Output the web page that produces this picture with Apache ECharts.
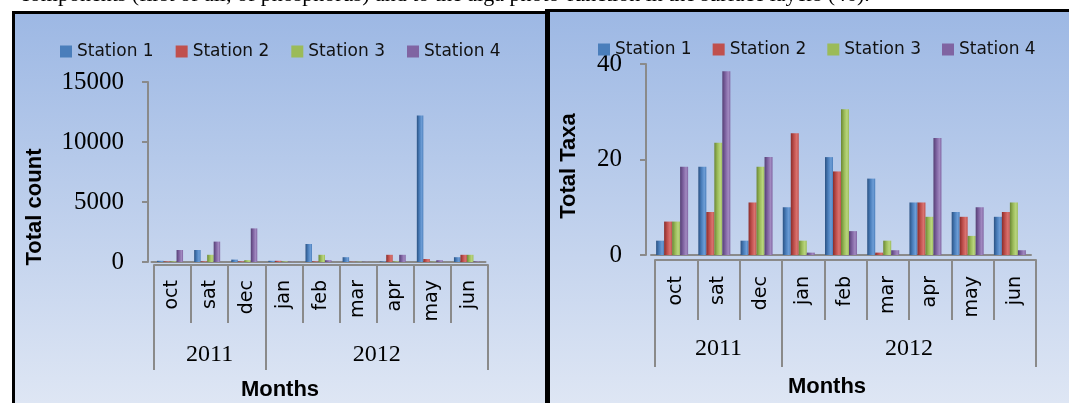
<!DOCTYPE html>
<html>
<head>
<meta charset="utf-8">
<script src="https://cdn.jsdelivr.net/npm/echarts@6/dist/echarts.min.js"></script>
<style>
  html, body { margin: 0; padding: 0; background: #fff; }
  #chart { width: 1069px; height: 403px; }
</style>
</head>
<body>
<div id="chart"></div>
<script>
const months = ['oct', 'sat', 'dec', 'jan', 'feb', 'mar', 'apr', 'may', 'jun'];
const years = ['2011', '2012'];
const stations = ['Station 1', 'Station 2', 'Station 3', 'Station 4'];

// left panel: total count
const count1 = [100, 1000, 200, 100, 1500, 400, 50, 12200, 400];
const count2 = [50, 50, 50, 100, 50, 20, 600, 250, 600];
const count3 = [50, 600, 150, 50, 600, 20, 50, 20, 600];
const count4 = [1000, 1700, 2800, 20, 150, 20, 600, 150, 50];

// right panel: total taxa
const taxa1 = [3, 18.5, 3, 10, 20.5, 16, 11, 9, 8];
const taxa2 = [7, 9, 11, 25.5, 17.5, 0.5, 11, 8, 9];
const taxa3 = [7, 23.5, 18.5, 3, 30.5, 3, 8, 4, 11];
const taxa4 = [18.5, 38.5, 20.5, 0.5, 5, 1, 24.5, 10, 1];

const countMax = 15000, countStep = 5000;
const taxaMax = 40, taxaStep = 20;

const colors = ['#4a7ebb', '#c0504d', '#9bbb59', '#8064a2'];
const shades = [
  ['#2b5283', '#4a7ebb', '#6d9dd6'],
  ['#8a2d2a', '#c0504d', '#d9736f'],
  ['#6b8735', '#9bbb59', '#b9d57e'],
  ['#553f74', '#8064a2', '#a189c0']
];

function cyl(i) {
  const s = shades[i];
  return {
    type: 'linear', x: 0, y: 0, x2: 1, y2: 0,
    colorStops: [
      { offset: 0, color: s[0] },
      { offset: 0.4, color: s[1] },
      { offset: 0.75, color: s[2] },
      { offset: 1, color: s[1] }
    ]
  };
}

const gray = '#8a8a8a';
const numFont = 'Liberation Serif';
const txtFont = 'DejaVu Sans';

function legendFor(left, top, gap) {
  return {
    left: left, top: top,
    itemWidth: 12, itemHeight: 12, itemGap: gap,
    icon: 'rect',
    textStyle: { fontFamily: txtFont, fontSize: 17, color: '#111' },
    data: stations.map((n, i) => ({ name: n, itemStyle: { color: colors[i] } }))
  };
}

function barAxis(grid) {
  return {
    type: 'category', gridIndex: grid, data: months, position: 'bottom',
    axisLine: { show: true, lineStyle: { color: gray, width: 2 } },
    axisTick: { show: false }, axisLabel: { show: false }
  };
}

function monthAxis(grid, tickLen, margin) {
  return {
    type: 'category', gridIndex: grid, data: months, position: 'bottom',
    axisLine: { show: true, lineStyle: { color: gray, width: 2 } },
    axisTick: { show: true, interval: 0, length: tickLen, lineStyle: { color: gray, width: 2 } },
    axisLabel: { interval: 0, rotate: 90, margin: margin, fontFamily: txtFont, fontSize: 19, color: '#000' }
  };
}

function yearAxis(grid, tickLen, margin) {
  return {
    type: 'value', gridIndex: grid, min: 0, max: months.length, position: 'bottom',
    axisLine: { show: false },
    splitLine: { show: false },
    axisTick: { show: true, customValues: [0, 3, months.length], length: tickLen, lineStyle: { color: gray, width: 2 } },
    axisLabel: {
      customValues: [1.5, 6], margin: margin,
      fontFamily: numFont, fontSize: 24, color: '#000',
      formatter: v => (v < 3 ? years[0] : years[1])
    }
  };
}

function valueAxis(grid, max, step, offset) {
  return {
    type: 'value', gridIndex: grid, min: 0, max: max, interval: step, offset: offset,
    axisLine: { show: true, lineStyle: { color: gray, width: 2 } },
    axisTick: { show: true, length: 6, lineStyle: { color: gray, width: 2 } },
    splitLine: { show: false },
    axisLabel: { margin: 24, fontFamily: numFont, fontSize: 25, color: '#000', formatter: v => String(v) }
  };
}

function hiddenY(grid) {
  return { type: 'value', gridIndex: grid, min: 0, max: 1, show: false };
}

function bars(data, xi, yi, width) {
  return data.map((d, i) => ({
    name: stations[i], type: 'bar', xAxisIndex: xi, yAxisIndex: yi,
    barWidth: width, barGap: '0%', data: d,
    itemStyle: { color: cyl(i) }
  }));
}

function panelBg(x, y, w, h) {
  return {
    type: 'rect', z: -10, silent: true,
    shape: { x: x, y: y, width: w, height: h },
    style: {
      fill: {
        type: 'linear', x: 0, y: 0, x2: 0, y2: 1,
        colorStops: [{ offset: 0, color: '#9db8e4' }, { offset: 1, color: '#dee6f4' }]
      }
    }
  };
}

function blk(x, y, w, h) {
  return { type: 'rect', z: -5, silent: true, shape: { x: x, y: y, width: w, height: h }, style: { fill: '#000' } };
}

function label(text, x, y, rot, size) {
  return {
    type: 'text', z: 100, x: x, y: y, rotation: rot || 0,
    style: {
      text: text, fill: '#000', align: 'center', verticalAlign: 'middle',
      font: 'bold ' + size + 'px "Liberation Sans"'
    }
  };
}

const chart = echarts.init(document.getElementById('chart'));

const option = {
  backgroundColor: '#fff',
  animation: false,
  legend: [legendFor(55, 38, 22), legendFor(593, 36, 21)],
  grid: [
    { left: 151.5, width: 334, top: 82, height: 180 },
    { left: 154, width: 334, top: 100, height: 165 },
    { left: 651, width: 380, top: 64, height: 191 },
    { left: 655, width: 381, top: 100, height: 160 }
  ],
  xAxis: [
    barAxis(0),
    monthAxis(1, 58, 15),
    yearAxis(1, 105, 78),
    barAxis(2),
    monthAxis(3, 60, 16),
    yearAxis(3, 107, 77)
  ],
  yAxis: [
    valueAxis(0, countMax, countStep, 3.5),
    hiddenY(1),
    valueAxis(2, taxaMax, taxaStep, 5),
    hiddenY(3)
  ],
  series: [
    ...bars([count1, count2, count3, count4], 0, 0, 6.5),
    ...bars([taxa1, taxa2, taxa3, taxa4], 3, 2, 8)
  ],
  graphic: [
    panelBg(15, 14, 531, 389),
    panelBg(550, 12, 519, 391),
    blk(12, 11, 3, 392),
    blk(12, 11, 536, 3),
    blk(545, 9, 5, 394),
    blk(545, 9, 524, 3),
    {
      type: 'text', z: -20, x: 20, y: 6,
      style: {
        text: 'components (first of all, of phosphorus) and to the alga photo-function in the surface layers (46).',
        fill: '#000', align: 'left', verticalAlign: 'bottom',
        font: '22px "Liberation Serif"'
      }
    },
    label('Total count', 35, 207, Math.PI / 2, 22),
    label('Total Taxa', 569, 166, Math.PI / 2, 22),
    label('Months', 280, 390, 0, 22),
    label('Months', 827, 387, 0, 22)
  ]
};

chart.setOption(option);
</script>
</body>
</html>
